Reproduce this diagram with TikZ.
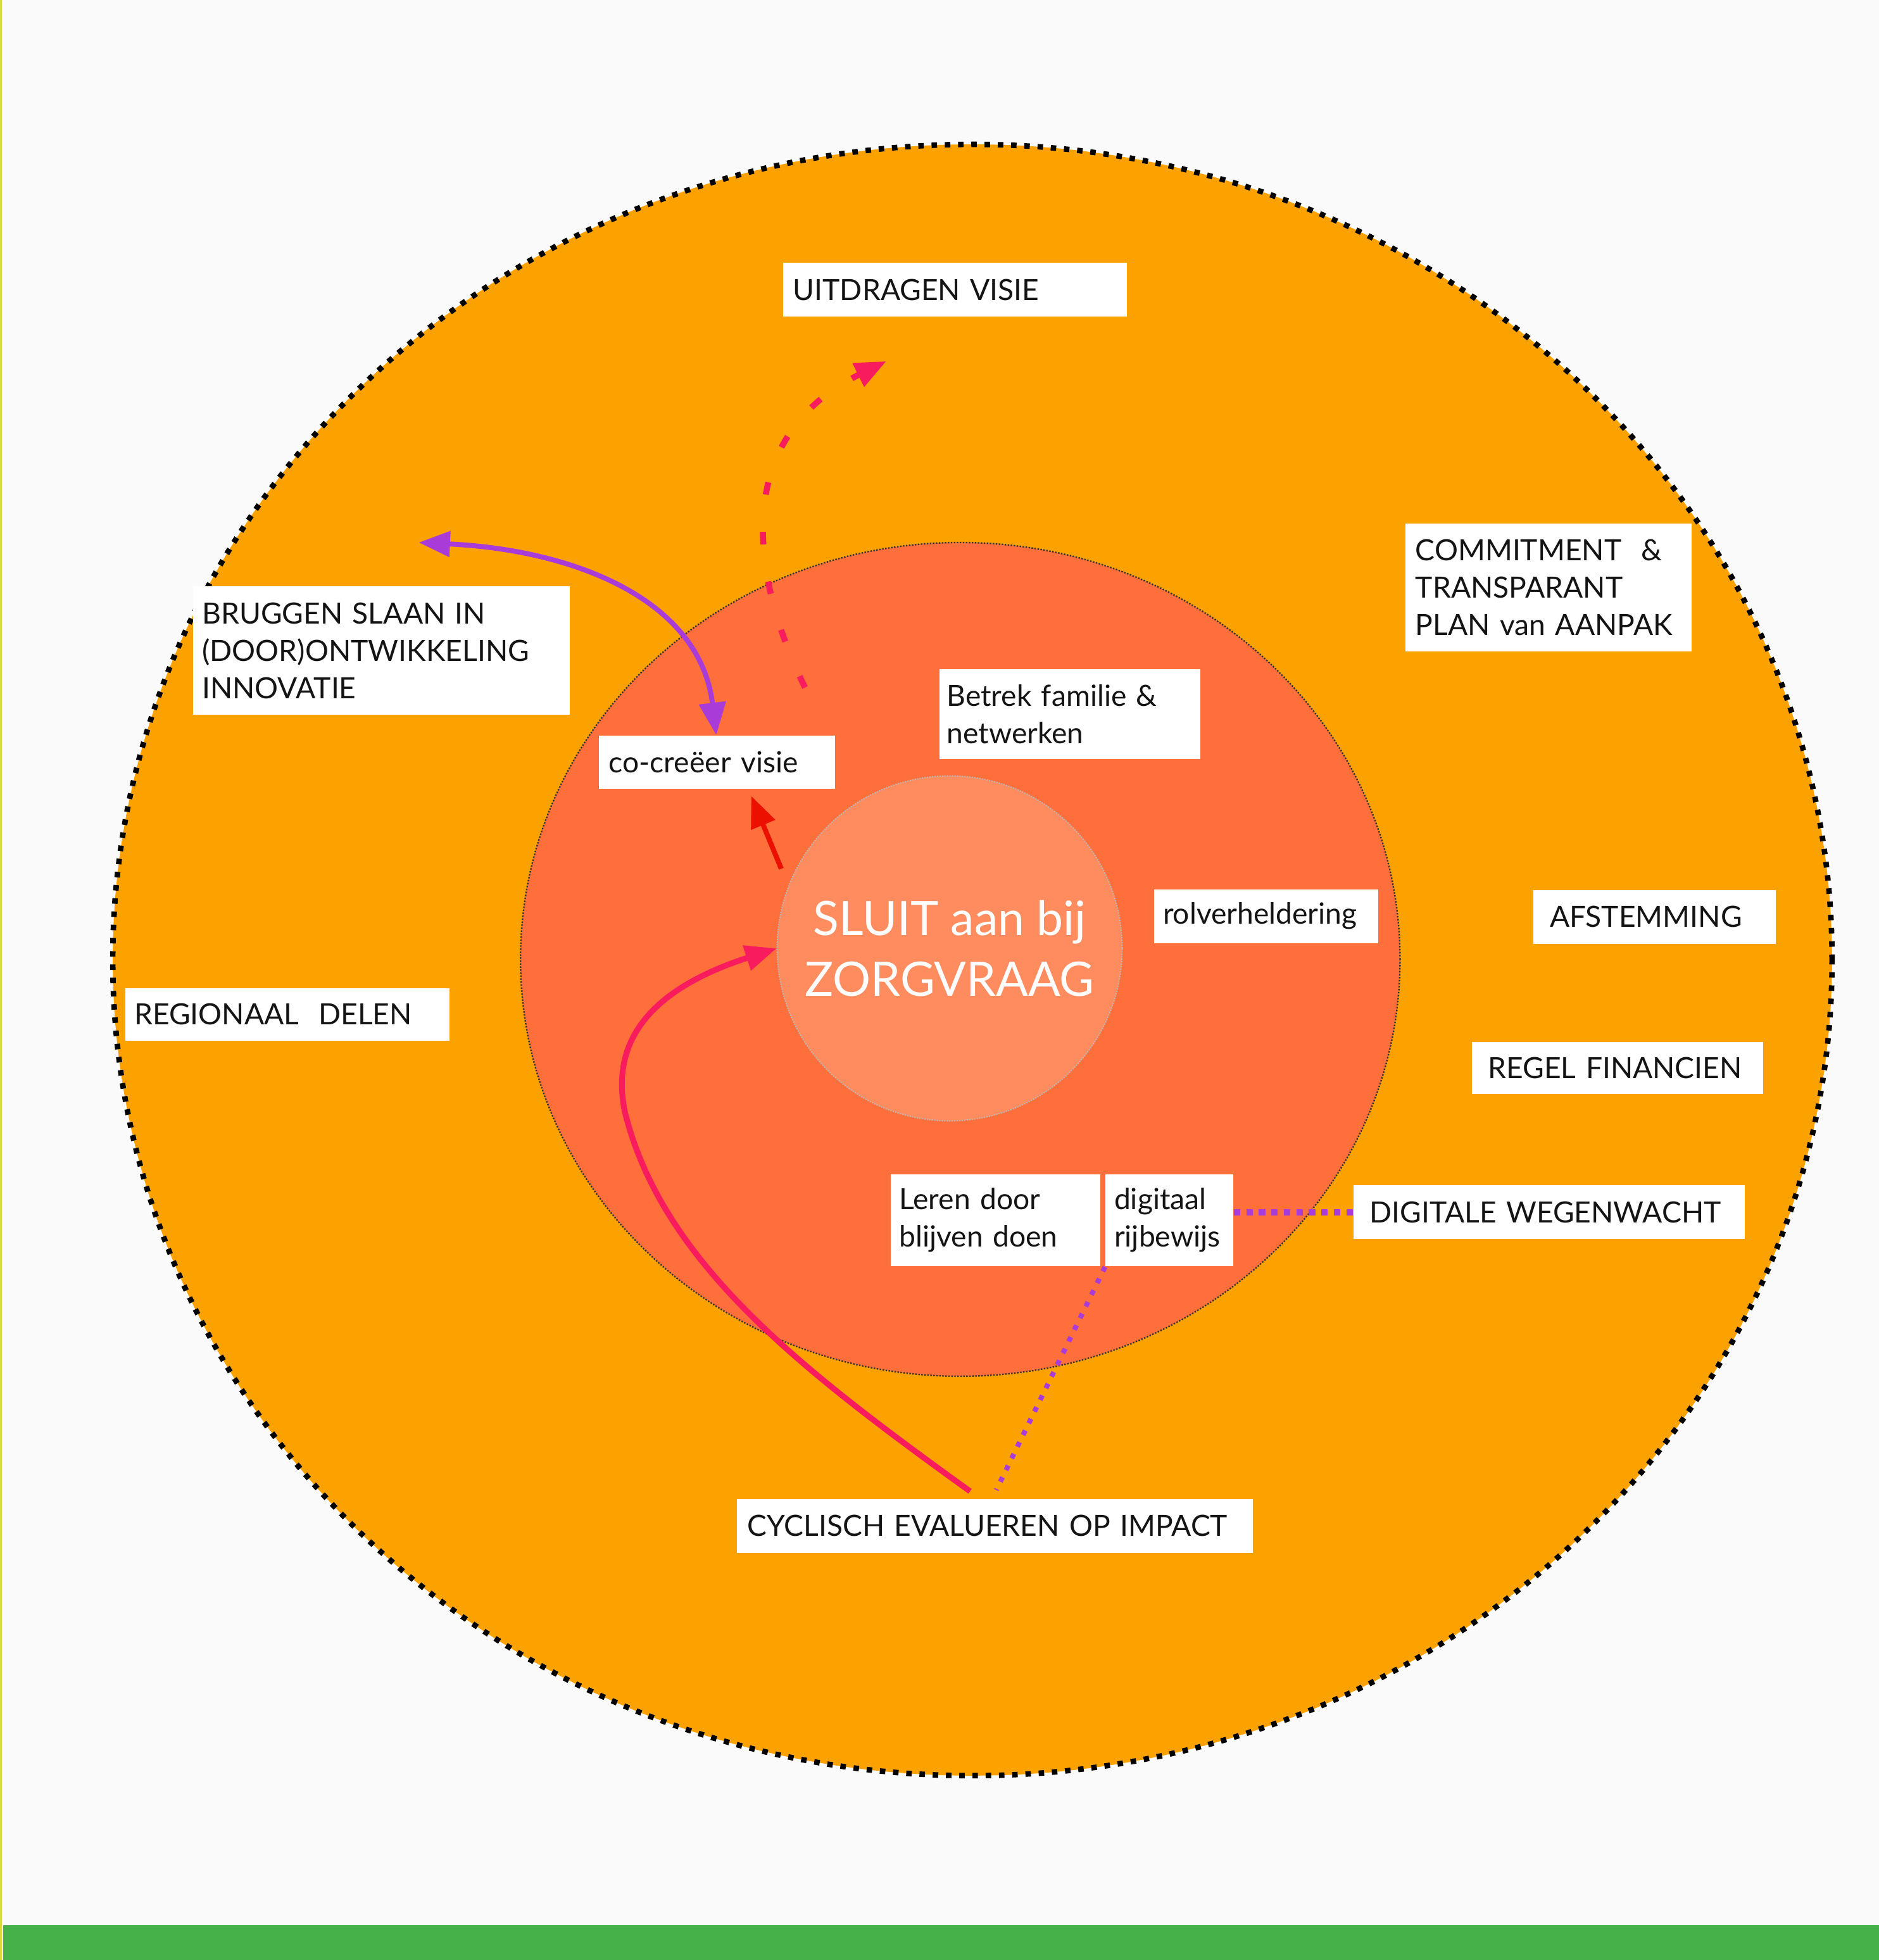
\documentclass[tikz,border=0pt]{standalone}
\usepackage{fontspec}
\setmainfont{Lato}
\usetikzlibrary{arrows.meta, calc}

\definecolor{achtergrond}{HTML}{FAFAFA}
\definecolor{randgeel}{HTML}{D4DB3A}
\definecolor{balkgroen}{HTML}{46B148}
\definecolor{oranje}{HTML}{FCA200}
\definecolor{tomaat}{HTML}{FF6F3B}
\definecolor{zalm}{HTML}{FF8C5F}
\definecolor{roze}{HTML}{F81B5E}
\definecolor{rood}{HTML}{EC1000}
\definecolor{paars}{HTML}{A93CD9}

\begin{document}
\begin{tikzpicture}[
        x                  = 0.5pt,
        y                  = -0.5pt,
        every node/.style  = {font=\fontsize{11.7}{15}\selectfont},
        kaartje/.style     = {fill=white, anchor=north west, inner ysep=0pt, align=left, text=black!92},
        kern/.style        = {circle, fill=zalm, draw=gray!55, line width=0.5pt, dash pattern=on 0.5pt off 0.5pt,
                              minimum size=138pt, inner sep=0pt, align=center, text=white,
                              font=\fontsize{19}{24.5}\selectfont},
        buitenrand/.style  = {draw=black, line width=2.2pt, dash pattern=on 2.2pt off 3.1pt},
        binnenrand/.style  = {draw=black!80, line width=0.6pt, dash pattern=on 0.6pt off 0.6pt},
        punt/.style        = {-{Triangle[length=12.5pt, width=10pt]}},
        paarspijl/.style   = {{Triangle[length=12.5pt, width=10pt]}-{Triangle[length=13pt, width=10.5pt]}, draw=paars, line width=2pt},
        rozepijl/.style    = {punt, draw=roze, line width=2.3pt},
        rozestreep/.style  = {punt, draw=roze, line width=2.4pt, dash pattern=on 5pt off 15pt},
        roodpijl/.style    = {punt, draw=rood, line width=2pt},
        paarsblok/.style   = {draw=paars, line width=2.5pt, dash pattern=on 2.6pt off 2.4pt},
        paarsstip/.style   = {draw=paars, line width=2pt, dash pattern=on 2pt off 3.2pt},
    ]
    \useasboundingbox (0,0) rectangle (1503,1568);
    \fill[achtergrond] (0,0) rectangle (1503,1568);
    \fill[randgeel] (0,0) rectangle (1.5,1568);
    \fill[balkgroen] (2.5,1540) rectangle (1503,1568);

    \fill[oranje] (777.9,768) ellipse [x radius=343.85pt, y radius=326.25pt];
    \draw[buitenrand] (777.9,768) ellipse [x radius=343.85pt, y radius=326.25pt];
    \fill[tomaat] (768.2,767.5) ellipse [x radius=175.9pt, y radius=166.75pt];
    \draw[binnenrand] (768.2,767.5) ellipse [x radius=175.9pt, y radius=166.75pt];

    \node[kern] (kern) at (759.7,758.7) {SLUIT aan bij\\ZORGVRAAG};

    \node[kaartje, minimum width=137.5pt, minimum height=21.5pt, inner xsep=4pt, text width=129.5pt]
        (uitdragen) at (626,210) {UITDRAGEN VISIE};
    \node[kaartje, minimum width=150.5pt, minimum height=51.5pt, inner xsep=3.5pt, text width=143.5pt]
        (bruggen) at (154.3,468.6) {BRUGGEN SLAAN IN\\(DOOR)ONTWIKKELING\\INNOVATIE};
    \node[kaartje, minimum width=94.5pt, minimum height=21.3pt, inner xsep=4pt, text width=86.5pt]
        (cocreatie) at (478.7,588.1) {co-creëer visie};
    \node[kaartje, minimum width=114.3pt, minimum height=51.25pt, inner xsep=4pt, text width=106.3pt]
        (commitment) at (1124,418.2) {COMMITMENT~~\&\\TRANSPARANT\\PLAN van AANPAK};
    \node[kaartje, minimum width=104.5pt, minimum height=36pt, inner xsep=3pt, text width=98.5pt]
        (betrek) at (751,535) {Betrek familie \&\\netwerken};
    \node[kaartje, minimum width=89.5pt, minimum height=21.5pt, inner xsep=3.5pt, text width=82.5pt]
        (rollen) at (923,711) {rolverheldering};
    \node[kaartje, minimum width=97pt, minimum height=21.5pt, inner xsep=6.75pt, text width=83.5pt]
        (afstemming) at (1226,711.5) {AFSTEMMING};
    \node[kaartje, minimum width=129.5pt, minimum height=21pt, inner xsep=3.5pt, text width=122.5pt]
        (regionaal) at (100,790) {REGIONAAL~~DELEN};
    \node[kaartje, minimum width=116.5pt, minimum height=21pt, inner xsep=6.5pt, text width=103.5pt]
        (financien) at (1177,833) {REGEL FINANCIEN};
    \node[kaartje, minimum width=83.9pt, minimum height=36.9pt, inner xsep=3.5pt, text width=76.9pt]
        (leren) at (712,938.9) {Leren door\\blijven doen};
    \node[kaartje, minimum width=51.1pt, minimum height=36.9pt, inner xsep=3.5pt, text width=44.1pt]
        (digitaal) at (884,938.9) {digitaal\\rijbewijs};
    \node[kaartje, minimum width=156.5pt, minimum height=21.5pt, inner xsep=6.5pt, text width=143.5pt]
        (wegenwacht) at (1082.2,947.8) {DIGITALE WEGENWACHT};
    \node[kaartje, minimum width=206.5pt, minimum height=21.35pt, inner xsep=4.25pt, text width=198pt]
        (cyclisch) at (589,1199) {CYCLISCH EVALUEREN OP IMPACT};

    \coordinate (bruggenpunt) at (335,434);
    \coordinate (visiestart) at (644,550);
    \coordinate (visiepunt) at (709,289);
    \coordinate (roodstart) at (625,695);

    \draw[paarspijl] (bruggenpunt) .. controls (460,440) and (560,480) .. ($(cocreatie.north west)+(94.3,0)$);
    \draw[rozestreep] (visiestart) .. controls (600,460) and (585,350) .. (visiepunt);
    \draw[roodpijl] (roodstart) -- ($(cocreatie.south west)+(122.3,5.3)$);
    \draw[rozepijl] ($(cyclisch.north west)+(187,-6)$) .. controls (640,1095) and (530,1010) .. (500,890)
        .. controls (485,820) and (540,785) .. (kern.west);
    \draw[paarsblok] (wegenwacht.west -| digitaal.east) -- (wegenwacht.west);
    \draw[paarsstip] (digitaal.south west) -- ($(cyclisch.north west)+(208,-7)$);
\end{tikzpicture}
\end{document}
